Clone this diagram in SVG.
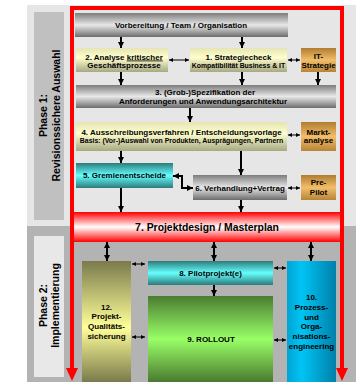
<svg xmlns="http://www.w3.org/2000/svg" width="356" height="382" viewBox="0 0 356 382">
<defs>
<linearGradient id="gGray" x1="0" y1="0" x2="0" y2="1"><stop offset="0" stop-color="#7c7c7c"/><stop offset="0.5" stop-color="#e8e8e8"/><stop offset="1" stop-color="#6c6c6c"/></linearGradient>
<linearGradient id="gYel" x1="0" y1="0" x2="0" y2="1"><stop offset="0" stop-color="#e4e4b4"/><stop offset="0.4" stop-color="#ffffcc"/><stop offset="1" stop-color="#a8a884"/></linearGradient>
<linearGradient id="gOra" x1="0" y1="0" x2="0" y2="1"><stop offset="0" stop-color="#b07c30"/><stop offset="0.5" stop-color="#f2be6a"/><stop offset="1" stop-color="#b88438"/></linearGradient>
<linearGradient id="gCyan" x1="0" y1="0" x2="0" y2="1"><stop offset="0" stop-color="#2c7c7c"/><stop offset="0.5" stop-color="#66ffff"/><stop offset="1" stop-color="#2c7a7a"/></linearGradient>
<linearGradient id="gGreen" x1="0" y1="0" x2="0" y2="1"><stop offset="0" stop-color="#4a7c32"/><stop offset="0.5" stop-color="#99ff66"/><stop offset="1" stop-color="#4a7a30"/></linearGradient>
<linearGradient id="gOlive" x1="0" y1="0" x2="0" y2="1"><stop offset="0" stop-color="#7a7a4c"/><stop offset="0.55" stop-color="#ffff99"/><stop offset="1" stop-color="#7a7a4c"/></linearGradient>
<linearGradient id="gBlue" x1="0" y1="0" x2="1" y2="0"><stop offset="0" stop-color="#00a4d4"/><stop offset="0.3" stop-color="#00c4f4"/><stop offset="1" stop-color="#0080aa"/></linearGradient>
<linearGradient id="gRed" x1="0" y1="0" x2="0" y2="1"><stop offset="0" stop-color="#ff0000"/><stop offset="0.5" stop-color="#ffffff"/><stop offset="1" stop-color="#ff0000"/></linearGradient>
<marker id="a" viewBox="0 0 6 6" markerWidth="6" markerHeight="6" markerUnits="userSpaceOnUse" refX="6" refY="3" orient="auto-start-reverse"><path d="M0,0 L6,3 L0,6 z" fill="#000"/></marker>
<marker id="s" viewBox="0 0 4 4" markerWidth="4" markerHeight="4" markerUnits="userSpaceOnUse" refX="4" refY="2" orient="auto-start-reverse"><path d="M0,0 L4,2 L0,4 z" fill="#000"/></marker>
<style>
text{font-family:"Liberation Sans",Arial,sans-serif;font-weight:bold;fill:#000;text-anchor:middle}
.t8{font-size:8px}
.t7{font-size:6.9px}
.ph{font-size:10.5px}
.big{font-size:10.4px}
.c path{fill:none;stroke:#000}
.v{stroke-width:2;marker-end:url(#a)}
.vd{stroke-width:2;marker-start:url(#a);marker-end:url(#a)}
.h{stroke-width:1;marker-start:url(#s);marker-end:url(#s)}
.fr{fill:none;stroke:#ff0000;stroke-width:4;stroke-linejoin:miter}
</style>
</defs>
<rect x="27" y="5" width="329" height="221" fill="#e6e6e6"/>
<rect x="27" y="226" width="329" height="156" fill="#b3b3b3"/>
<g id="phase1">
<rect x="34" y="12" width="30" height="208" fill="#c0c0c0"/>
<text class="ph" transform="translate(47,115.5) rotate(-90)">Phase 1:</text>
<text class="ph" transform="translate(59.5,115.5) rotate(-90)">Revisionssichere Auswahl</text>
</g>
<g id="phase2">
<rect x="34" y="236" width="30" height="141" fill="#e8e8e8"/>
<text class="ph" transform="translate(46.5,305.5) rotate(-90)">Phase 2:</text>
<text class="ph" transform="translate(58.5,305.5) rotate(-90)">Implementierung</text>
</g>
<g id="n0"><rect x="75" y="13" width="213" height="24" fill="url(#gGray)"/><text class="t8" x="181" y="28">Vorbereitung / Team / Organisation</text></g>
<g id="n2"><rect x="76" y="48" width="92" height="24" fill="url(#gYel)"/><text class="t8" x="124" y="59.5">2. Analyse <tspan text-decoration="underline">kritischer</tspan></text><text class="t8" x="124" y="68">Geschäftsprozesse</text></g>
<g id="n1"><rect x="190" y="48" width="97" height="24" fill="url(#gYel)"/><text class="t8" x="238.5" y="59.5">1. Strategiecheck</text><text class="t7" x="238.5" y="67.5">Kompatibilität Business &amp; IT</text></g>
<g id="nIT"><rect x="301" y="48" width="35" height="24" fill="url(#gOra)"/><text class="t8" x="318.5" y="59">IT-</text><text class="t8" x="318.5" y="68">Strategie</text></g>
<g id="n3"><rect x="76" y="85" width="260" height="23" fill="url(#gGray)"/><text class="t8" x="205" y="95">3. (Grob-)Spezifikation der</text><text class="t8" x="203" y="103.5">Anforderungen und Anwendungsarchitektur</text></g>
<g id="n4"><rect x="76" y="122" width="211" height="29" fill="url(#gYel)"/><text class="t8" x="181.5" y="135">4. Ausschreibungsverfahren / Entscheidungsvorlage</text><text class="t7" x="181.5" y="142.5">Basis: (Vor-)Auswahl von Produkten, Ausprägungen, Partnern</text></g>
<g id="nMarkt"><rect x="301" y="122" width="35" height="29" fill="url(#gOra)"/><text class="t8" x="318.5" y="135">Markt-</text><text class="t8" x="318.5" y="143">analyse</text></g>
<g id="n5"><rect x="76" y="163" width="97" height="25" fill="url(#gCyan)"/><text class="t8" x="124.5" y="177.5">5. Gremienentscheide</text></g>
<g id="n6"><rect x="193" y="175" width="94" height="25" fill="url(#gGray)"/><text class="t8" x="240" y="191">6. Verhandlung+Vertrag</text></g>
<g id="nPre"><rect x="301" y="175" width="35" height="25" fill="url(#gOra)"/><text class="t8" x="318.5" y="185">Pre-</text><text class="t8" x="318.5" y="195">Pilot</text></g>
<g id="n7"><rect x="72" y="212" width="270" height="30" fill="url(#gRed)"/><text class="big" x="207" y="231">7. Projektdesign / Masterplan</text></g>
<g id="n12"><rect x="82" y="261" width="49" height="121" fill="url(#gOlive)"/><text class="t8" x="106.5" y="309.5">12.</text><text class="t8" x="106.5" y="319.3">Projekt-</text><text class="t8" x="106.5" y="329.1">Qualitäts-</text><text class="t8" x="106.5" y="338.9">sicherung</text></g>
<g id="n8"><rect x="148" y="261" width="125" height="24" fill="url(#gCyan)"/><text class="t8" x="210.5" y="275.8">8. Pilotprojekt(e)</text></g>
<g id="n9"><rect x="148" y="296" width="125" height="86" fill="url(#gGreen)"/><text class="t8" x="211" y="341.7">9. ROLLOUT</text></g>
<g id="n10"><rect x="287" y="261" width="49" height="121" fill="url(#gBlue)"/><text class="t8" x="311.5" y="300">10.</text><text class="t8" x="311.5" y="309.8">Prozess-</text><text class="t8" x="311.5" y="319.6">und</text><text class="t8" x="311.5" y="329.4">Orga-</text><text class="t8" x="311.5" y="339.2">nisations-</text><text class="t8" x="311.5" y="349">engineering</text></g>
<g id="connectors" class="c">
<path class="v" d="M121,37 V48"/>
<path class="v" d="M242,37 V48"/>
<path class="h" d="M169,60 H189"/>
<path class="h" d="M288,60 H300"/>
<path class="v" d="M121,72 V85"/>
<path class="v" d="M242,72 V85"/>
<path class="v" d="M318,72 V85"/>
<path class="v" d="M190,108 V122"/>
<path class="h" d="M288,135 H300"/>
<path class="v" d="M121,151 V163"/>
<path class="v" d="M241,151 V175"/>
<path class="vd" d="M173,176 H182 V188 H193"/>
<path class="h" d="M288,188 H300"/>
<path class="v" d="M121,188 V212"/>
<path class="v" d="M241,200 V212"/>
<path class="vd" d="M107,242 V261"/>
<path class="vd" d="M214,242 V261"/>
<path class="vd" d="M311,242 V261"/>
<path class="h" d="M132,264 H145"/>
<path class="h" d="M132,337 H145"/>
<path class="v" d="M214,285 V296"/>
<path class="h" d="M274,268 H286"/>
<path class="h" d="M274,340 H286"/>
</g>
<g id="frame">
<path class="fr" d="M72,369 V8 H342 V369"/>
<polygon points="66,368 78,368 72,381" fill="#ff0000"/>
<polygon points="336,368 348,368 342,381" fill="#ff0000"/>
</g>
</svg>
